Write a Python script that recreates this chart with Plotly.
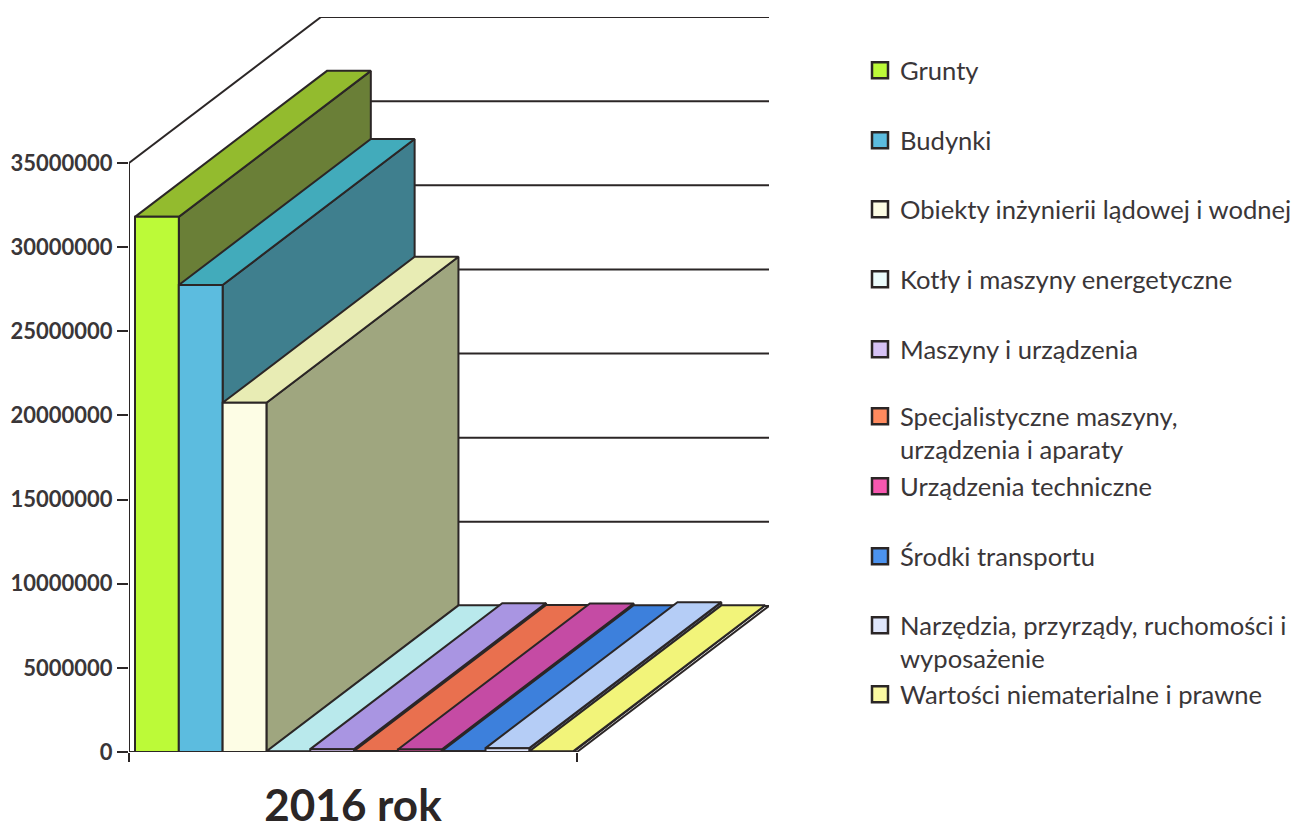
import plotly.graph_objects as go

# --- data ---
CATEGORIES = [
    "Grunty", "Budynki", "Obiekty inżynierii lądowej i wodnej",
    "Kotły i maszyny energetyczne", "Maszyny i urządzenia",
    "Specjalistyczne maszyny,<br>urządzenia i aparaty", "Urządzenia techniczne",
    "Środki transportu", "Narzędzia, przyrządy, ruchomości i<br>wyposażenie",
    "Wartości niematerialne i prawne",
]
VALUES = [31800000, 27750000, 20750000, 40000, 170000, 60000, 150000, 50000, 230000, 40000]
Y_TICKS = [0, 5000000, 10000000, 15000000, 20000000, 25000000, 30000000, 35000000]
X_LABEL = "2016 rok"

# --- style ---
FRONT = ["#bcfa38", "#5cbcdf", "#fdfde5", "#ecfdfd", "#d6c2f5", "#ff8a5e", "#f857b0", "#4c93ef", "#dfe6fb", "#fbf9a2"]
TOP = ["#93bb2e", "#42abbb", "#e8ecb4", "#b9e9ec", "#a995e2", "#e9704f", "#c54ba4", "#3d80dc", "#b5cdf6", "#f2f47a"]
SIDE = ["#6a7f37", "#3f7f8e", "#9fa67f", "#7fa0a2", "#75689c", "#a14e37", "#883472", "#2a5898", "#7d8eaa", "#a8aa55"]
LEGEND_ROW_PX = [71, 141, 210, 280, 350, 417, 487, 557, 626, 695]
INK = "#2b2626"
TEXT = "#3a3638"
LW = 2

# oblique projection, in axis units
SLOTS = 10
DX = 192 / 44.8
DY = 146 / 589 * 35000000
BAR_START = 0.134
BAR_W = 0.978

# the page adds an 8 px body margin
WIDTH, HEIGHT = 1294, 822
L, R, T, B = 121, 533, 9, 78
PLOT_W = WIDTH - L - R
PLOT_H = HEIGHT - T - B

fig = go.Figure()


def line(xs, ys, width=LW):
    fig.add_trace(go.Scatter(x=xs, y=ys, mode="lines", showlegend=False, hoverinfo="skip",
                             line=dict(color=INK, width=width)))


def poly(xs, ys, color, name):
    fig.add_trace(go.Scatter(x=xs, y=ys, mode="lines", fill="toself", fillcolor=color, name=name,
                             showlegend=False, hoverinfo="skip",
                             line=dict(color=INK, width=LW)))


xmax = PLOT_W / 44.8
top = Y_TICKS[-1]

# walls and floor
for t in Y_TICKS:
    line([DX, xmax], [t + DY, t + DY])
line([0, DX], [top, top + DY])
line([0, 0], [0, top])
line([0, SLOTS], [0, 0])
line([SLOTS, SLOTS + DX], [0, DY])

# bars, left to right so nearer bars cover the earlier ones
for i, (name, v) in enumerate(zip(CATEGORIES, VALUES)):
    x0 = BAR_START + i * BAR_W
    x1 = x0 + BAR_W
    poly([x1, x1 + DX, x1 + DX, x1, x1], [0, DY, v + DY, v, 0], SIDE[i], name)
    poly([x0, x1, x1 + DX, x0 + DX, x0], [v, v, v + DY, v + DY, v], TOP[i], name)
    poly([x0, x1, x1, x0, x0], [0, 0, v, v, 0], FRONT[i], name)

# legend: one native legend per entry, placed at its row
layout_legends = {}
for i, name in enumerate(CATEGORIES):
    key = "legend" if i == 0 else f"legend{i + 1}"
    fig.add_trace(go.Scatter(x=[None], y=[None], mode="markers", name=name, legend=key,
                             marker=dict(symbol="square", size=16, color=FRONT[i],
                                         line=dict(color=INK, width=2.5))))
    layout_legends[key] = dict(
        x=(852 - L) / PLOT_W, xanchor="left",
        y=(T + PLOT_H - (LEGEND_ROW_PX[i] - 32)) / PLOT_H, yanchor="top",
        bgcolor="rgba(0,0,0,0)", borderwidth=0, valign="top",
        font=dict(family="Lato", size=25.6, color=TEXT),
    )

fig.update_layout(
    width=WIDTH, height=HEIGHT,
    margin=dict(l=L, r=R, t=T, b=B, autoexpand=False),
    paper_bgcolor="white", plot_bgcolor="white",
    xaxis=dict(range=[0, xmax], showgrid=False, zeroline=False, showline=False,
               tickmode="array", tickvals=[SLOTS / 2], ticktext=[X_LABEL], ticks="",
               ticklabelstandoff=24,
               tickfont=dict(family="Lato", size=44, color=INK, weight="bold"),
               minor=dict(tickmode="array", tickvals=[0, SLOTS], ticks="outside", ticklen=9,
                          tickwidth=2, tickcolor=INK, showgrid=False)),
    yaxis=dict(range=[0, top + DY], showgrid=False, zeroline=False, showline=False,
               tickmode="array", tickvals=Y_TICKS, tickformat="d", ticks="outside",
               ticklen=11, tickwidth=2, tickcolor=INK,
               tickfont=dict(family="Lato", size=22, color=TEXT, weight="bold")),
    **layout_legends,
)

fig.write_html("out.html")
